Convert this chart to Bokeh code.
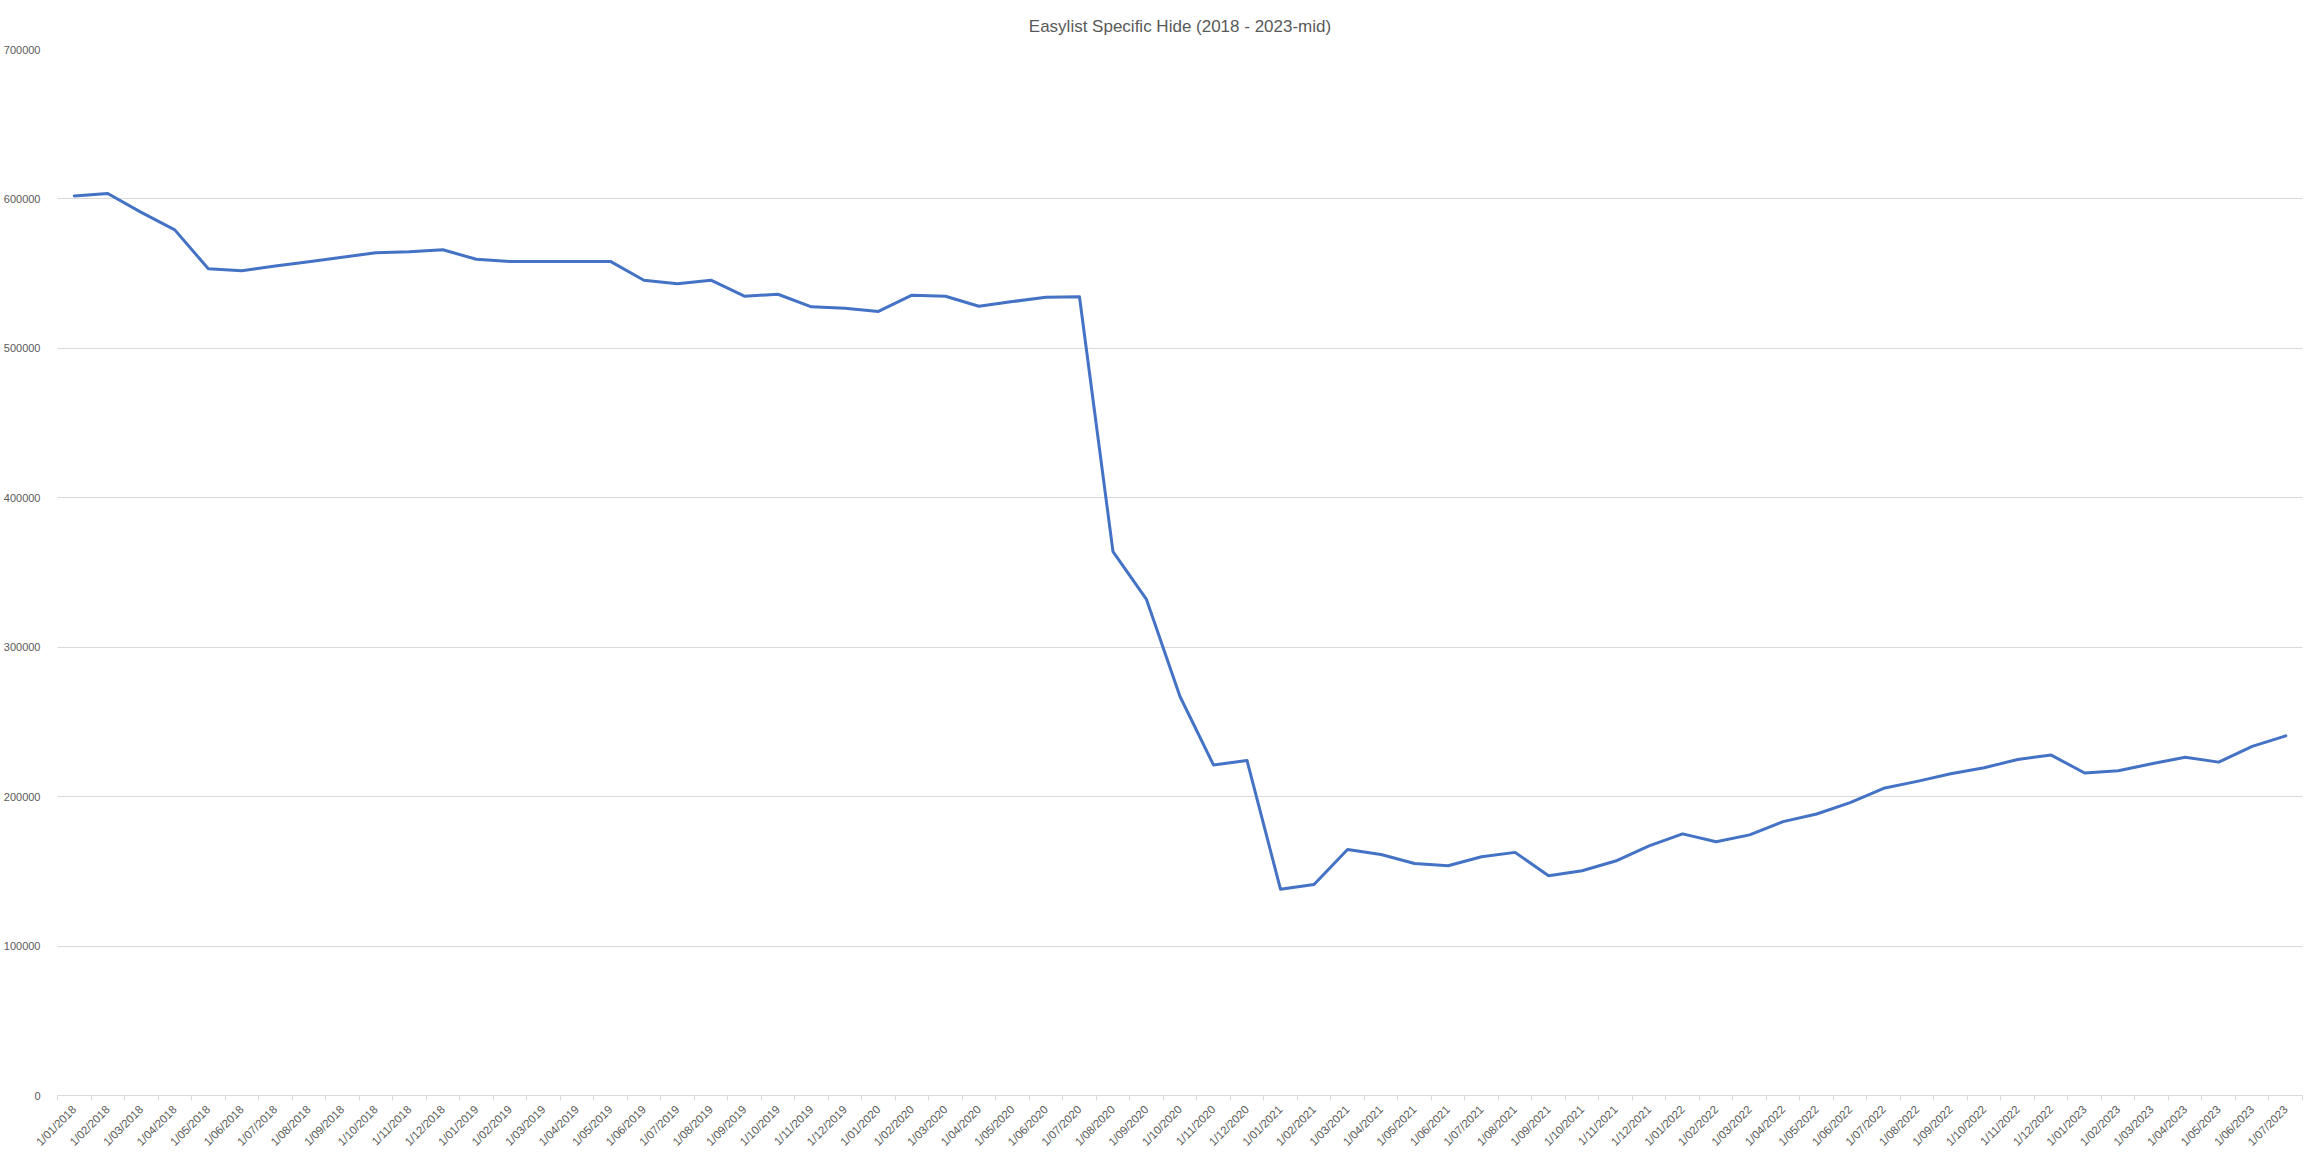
import math
from bokeh.plotting import figure
from bokeh.models import FixedTicker, NumeralTickFormatter, ColumnDataSource, Range1d
from bokeh.embed import file_html
from bokeh.resources import INLINE

title_text = "Easylist Specific Hide (2018 - 2023-mid)"

months = [
    "1/01/2018", "1/02/2018", "1/03/2018", "1/04/2018", "1/05/2018", "1/06/2018",
    "1/07/2018", "1/08/2018", "1/09/2018", "1/10/2018", "1/11/2018", "1/12/2018",
    "1/01/2019", "1/02/2019", "1/03/2019", "1/04/2019", "1/05/2019", "1/06/2019",
    "1/07/2019", "1/08/2019", "1/09/2019", "1/10/2019", "1/11/2019", "1/12/2019",
    "1/01/2020", "1/02/2020", "1/03/2020", "1/04/2020", "1/05/2020", "1/06/2020",
    "1/07/2020", "1/08/2020", "1/09/2020", "1/10/2020", "1/11/2020", "1/12/2020",
    "1/01/2021", "1/02/2021", "1/03/2021", "1/04/2021", "1/05/2021", "1/06/2021",
    "1/07/2021", "1/08/2021", "1/09/2021", "1/10/2021", "1/11/2021", "1/12/2021",
    "1/01/2022", "1/02/2022", "1/03/2022", "1/04/2022", "1/05/2022", "1/06/2022",
    "1/07/2022", "1/08/2022", "1/09/2022", "1/10/2022", "1/11/2022", "1/12/2022",
    "1/01/2023", "1/02/2023", "1/03/2023", "1/04/2023", "1/05/2023", "1/06/2023",
    "1/07/2023",
]

values = [
    602000, 603600, 591000, 579300, 553300, 552000,
    555100, 558000, 560900, 564000, 564700, 566000,
    559600, 558200, 558200, 558200, 558200, 545600,
    543300, 545600, 534900, 536200, 527800, 526900,
    524700, 535600, 534900, 528200, 531300, 534200,
    534500, 364000, 332000, 267000, 221200, 224200,
    138000, 141200, 164600, 161300, 155300, 153800,
    159800, 162700, 147100, 150400, 156900, 167000,
    175100, 169800, 174400, 183300, 188400, 196000,
    205600, 210200, 215300, 219300, 224900, 227800,
    215800, 217300, 222000, 226400, 223100, 233600,
    240700,
]

y_ticks = [0, 100000, 200000, 300000, 400000, 500000, 600000, 700000]

idx = list(range(len(months)))
src = ColumnDataSource(data=dict(x=idx, y=values, month=months))

p = figure(
    frame_width=2245, frame_height=1046,
    output_backend="svg", toolbar_location=None,
    x_range=Range1d(-0.5, len(months) - 0.5),
    y_range=Range1d(y_ticks[0], y_ticks[-1]),
    min_border_left=48, min_border_right=7, min_border_top=49, min_border_bottom=50,
)

p.title.text = title_text
p.title.align = "center"
p.title.text_font = "Liberation Sans"
p.title.text_font_size = "17px"
p.title.text_font_style = "normal"
p.title.text_color = "#595959"
p.title.standoff = 27

p.line("x", "y", source=src, line_color="#4472C4", line_width=3, line_join="round", line_cap="round")

# x axis
xa = p.xaxis[0]
xa.ticker = FixedTicker(ticks=idx, minor_ticks=[i - 0.5 for i in range(len(months) + 1)])
xa.major_label_overrides = {i: m for i, m in enumerate(months)}
xa.major_label_orientation = math.pi / 4
xa.major_tick_line_color = None
xa.minor_tick_line_color = "#d9d9d9"
xa.minor_tick_in = 0
xa.minor_tick_out = 5
xa.axis_line_color = "#d9d9d9"
xa.major_label_text_font = "Liberation Sans"
xa.major_label_text_font_size = "11.5px"
xa.major_label_text_color = "#595959"
xa.major_label_standoff = 6

# y axis
ya = p.yaxis[0]
ya.ticker = FixedTicker(ticks=y_ticks)
ya.formatter = NumeralTickFormatter(format="0")
ya.axis_line_color = None
ya.major_tick_line_color = None
ya.minor_tick_line_color = None
ya.major_label_text_font = "Liberation Sans"
ya.major_label_text_font_size = "11px"
ya.major_label_text_color = "#595959"
ya.major_label_standoff = 11

p.xgrid.grid_line_color = None
p.ygrid.grid_line_color = "#d9d9d9"
p.ygrid.grid_line_width = 1
p.outline_line_color = None
p.background_fill_color = "white"
p.border_fill_color = "white"

open("out.html", "w").write(file_html(p, INLINE))
